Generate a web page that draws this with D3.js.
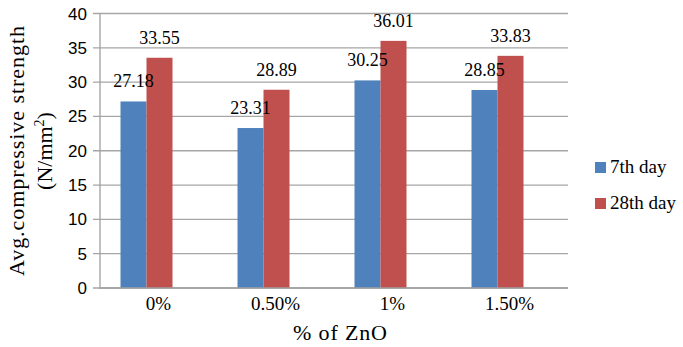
<!DOCTYPE html>
<html>
<head>
<meta charset="utf-8">
<script src="https://cdn.jsdelivr.net/npm/d3@7"></script>
</head>
<body style="margin:0;background:#fff">
<svg id="chart" width="683" height="347"></svg>
<script>
// Compressive strength of mixes by ZnO content
const categories = ["0%", "0.50%", "1%", "1.50%"];
const seriesNames = ["7th day", "28th day"];
const day7 = [27.18, 23.31, 30.25, 28.85];
const day28 = [33.55, 28.89, 36.01, 33.83];
const yTicks = [0, 5, 10, 15, 20, 25, 30, 35, 40];
const colors = ["#4F81BD", "#C0504D"];

const SERIF = '"Liberation Serif"';
const SANS = '"Liberation Sans"';

const svg = d3.select("#chart");
const plot = { left: 100, right: 568, top: 13.5, bottom: 288 };

const y = d3.scaleLinear().domain([0, 40]).range([plot.bottom, plot.top]);
const x = d3.scaleBand().domain(categories).range([plot.left, plot.right]);
const x1 = d3.scaleBand().domain(seriesNames).range([-38, 14]);

// gridlines
svg.append("g")
  .selectAll("line")
  .data(yTicks)
  .join("line")
  .attr("x1", plot.left - 7)
  .attr("x2", plot.right)
  .attr("y1", d => y(d))
  .attr("y2", d => y(d))
  .attr("stroke", "#a6a6a6")
  .attr("stroke-width", 1.3);

// y axis line
svg.append("line")
  .attr("x1", plot.left).attr("x2", plot.left)
  .attr("y1", plot.top).attr("y2", plot.bottom + 1)
  .attr("stroke", "#a0a0a0").attr("stroke-width", 1.3);

// y tick labels
svg.append("g")
  .selectAll("text")
  .data(yTicks)
  .join("text")
  .style("font-family", SANS)
  .attr("x", plot.left - 13)
  .attr("y", d => y(d) + 6)
  .attr("text-anchor", "end")
  .attr("font-size", 17)
  .text(d => d);

// bars
const rows = categories.map((c, i) => ({ cat: c, vals: [day7[i], day28[i]] }));
const groups = svg.append("g")
  .selectAll("g")
  .data(rows)
  .join("g")
  .attr("transform", d => `translate(${x(d.cat) + x.bandwidth() / 2},0)`);

groups.selectAll("rect")
  .data(d => d.vals.map((v, j) => ({ name: seriesNames[j], v, j })))
  .join("rect")
  .attr("x", d => x1(d.name))
  .attr("width", x1.bandwidth())
  .attr("y", d => y(d.v))
  .attr("height", d => y(0) - y(d.v))
  .attr("fill", d => colors[d.j]);

// value labels
groups.selectAll("text")
  .data(d => d.vals.map((v, j) => ({ name: seriesNames[j], v, j })))
  .join("text")
  .style("font-family", SERIF)
  .attr("x", d => x1(d.name) + x1.bandwidth() / 2)
  .attr("y", d => y(d.v) - 14)
  .attr("text-anchor", "middle")
  .attr("font-size", 18)
  .text(d => d.v.toFixed(2));

// x axis line
svg.append("line")
  .attr("x1", plot.left).attr("x2", plot.right)
  .attr("y1", plot.bottom).attr("y2", plot.bottom)
  .attr("stroke", "#a0a0a0").attr("stroke-width", 1.3);

// category labels
svg.append("g")
  .selectAll("text")
  .data(categories)
  .join("text")
  .style("font-family", SERIF)
  .attr("x", d => x(d) + x.bandwidth() / 2)
  .attr("y", 310)
  .attr("text-anchor", "middle")
  .attr("font-size", 19)
  .text(d => d);

// axis titles
svg.append("text")
  .style("font-family", SERIF)
  .attr("x", 340).attr("y", 340)
  .attr("text-anchor", "middle")
  .attr("font-size", 22)
  .attr("textLength", 94)
  .attr("lengthAdjust", "spacing")
  .text("% of ZnO");

const yTitle = svg.append("text")
  .style("font-family", SERIF)
  .attr("transform", "translate(24,151) rotate(-90)")
  .attr("text-anchor", "middle")
  .attr("font-size", 22);
yTitle.append("tspan").attr("x", 0).attr("y", 0)
  .attr("textLength", 250)
  .attr("lengthAdjust", "spacing")
  .text("Avg.compressive strength");
const l2 = yTitle.append("tspan").attr("x", 0).attr("y", 28);
l2.append("tspan").text("(N/mm");
l2.append("tspan").attr("dy", -8).attr("font-size", 14).text("2");
l2.append("tspan").attr("dy", 8).text(")");

// legend
const legend = svg.append("g")
  .selectAll("g")
  .data(seriesNames)
  .join("g")
  .attr("transform", (d, i) => `translate(595,${162 + i * 36})`);
legend.append("rect")
  .attr("width", 11).attr("height", 11)
  .attr("fill", (d, i) => colors[i]);
legend.append("text")
  .style("font-family", SERIF)
  .attr("x", 15).attr("y", 11)
  .attr("font-size", 19)
  .text(d => d);
</script>
</body>
</html>
